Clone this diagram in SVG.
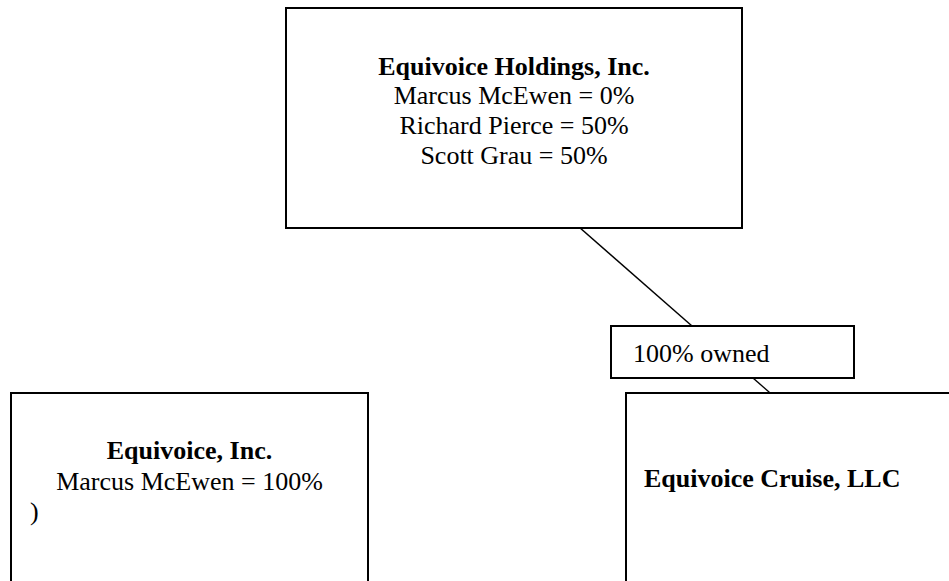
<svg xmlns="http://www.w3.org/2000/svg" width="949" height="581" viewBox="0 0 949 581">
  <style>
    .box { fill: #ffffff; stroke: #000000; stroke-width: 2; }
    .conn { stroke: #000000; stroke-width: 1.5; fill: none; }
    text { font-family: "Liberation Serif", "Times New Roman", serif; font-size: 26px; fill: #000000; }
    .b { font-weight: bold; }
    .c { text-anchor: middle; }
  </style>
  <rect x="0" y="0" width="949" height="581" fill="#ffffff"/>
  <g id="connectors">
    <line class="conn" x1="571" y1="220" x2="692" y2="326"/>
    <line class="conn" x1="753" y1="378" x2="777" y2="399"/>
  </g>
  <g id="holdings">
    <rect class="box" x="286" y="8" width="456" height="220"/>
    <text class="b c" x="514" y="74.5">Equivoice Holdings, Inc.</text>
    <text class="c" x="514" y="104">Marcus McEwen = 0%</text>
    <text class="c" x="514" y="134">Richard Pierce = 50%</text>
    <text class="c" x="514" y="164">Scott Grau = 50%</text>
  </g>
  <g id="label-owned">
    <rect class="box" x="611" y="326" width="243" height="52"/>
    <text x="633" y="362">100% owned</text>
  </g>
  <g id="equivoice-inc">
    <rect class="box" x="11" y="393" width="357" height="200"/>
    <text class="b c" x="189.5" y="459">Equivoice, Inc.</text>
    <text class="c" x="189.5" y="490">Marcus McEwen = 100%</text>
    <text x="30" y="520">)</text>
  </g>
  <g id="cruise">
    <rect class="box" x="626" y="393" width="340" height="200"/>
    <text class="b" x="644" y="487">Equivoice Cruise, LLC</text>
  </g>
</svg>
